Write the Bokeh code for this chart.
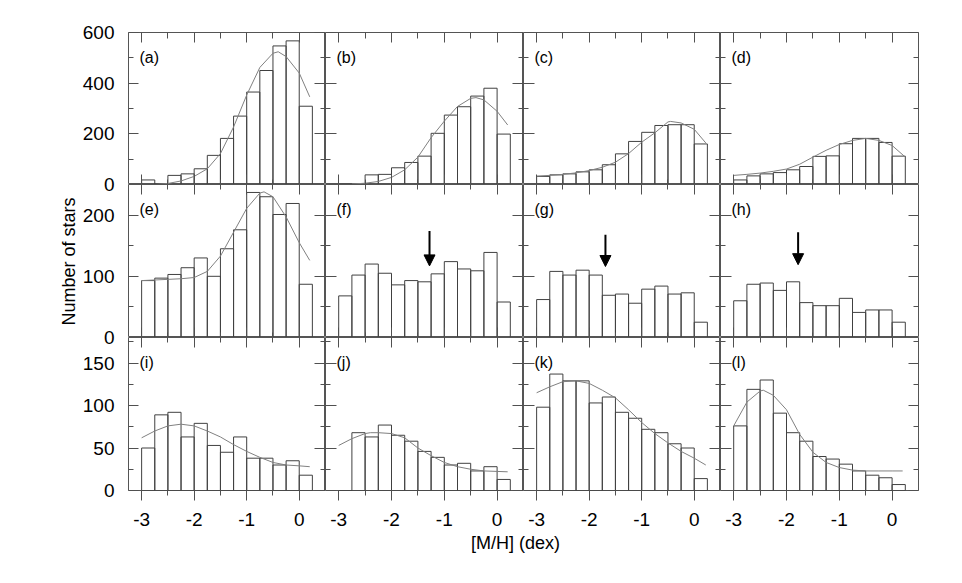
from bokeh.plotting import figure
from bokeh.models import Range1d, LinearAxis, FixedTicker, Label, Arrow, NormalHead, CustomLabelingPolicy
from bokeh.layouts import row, column
from bokeh.embed import file_html
from bokeh.resources import INLINE

# ---------------- data ----------------
BIN_LEFT = [-3.0, -2.75, -2.5, -2.25, -2.0, -1.75, -1.5, -1.25, -1.0, -0.75, -0.5, -0.25, 0.0]
BIN_WIDTH = 0.25

counts_a = [18, 2, 36, 42, 62, 115, 182, 270, 365, 450, 547, 567, 309]
counts_b = [1, 1, 38, 40, 66, 87, 112, 202, 274, 307, 349, 380, 199]
counts_c = [32, 38, 42, 50, 58, 78, 121, 170, 206, 233, 236, 236, 160]
counts_d = [18, 34, 42, 47, 58, 71, 111, 113, 161, 182, 182, 166, 112]
counts_e = [93, 97, 103, 114, 130, 100, 145, 176, 237, 230, 201, 219, 87]
counts_f = [68, 102, 120, 105, 86, 93, 91, 104, 124, 112, 109, 139, 58]
counts_g = [62, 108, 102, 110, 102, 69, 71, 56, 79, 84, 71, 73, 25]
counts_h = [60, 87, 89, 77, 91, 57, 52, 52, 64, 41, 45, 45, 25]
counts_i = [50, 89, 92, 63, 79, 53, 45, 63, 38, 38, 30, 35, 18]
counts_j = [0, 68, 63, 77, 65, 58, 46, 39, 30, 32, 23, 28, 13]
counts_k = [98, 137, 129, 129, 103, 110, 92, 85, 72, 68, 55, 50, 14]
counts_l = [76, 119, 130, 91, 68, 58, 40, 37, 31, 23, 18, 15, 7]

fit_a_x = [-2.75, -2.5, -2.25, -2.0, -1.75, -1.5, -1.25, -1.0, -0.75, -0.5, -0.4, -0.25, 0.0, 0.2]
fit_a_y = [0, 4, 14, 32, 62, 122, 227, 353, 462, 518, 524, 505, 440, 346]
fit_b_x = [-2.75, -2.5, -2.25, -2.0, -1.75, -1.5, -1.25, -1.0, -0.75, -0.5, -0.4, -0.25, 0.0, 0.2]
fit_b_y = [2, 5, 12, 28, 58, 108, 185, 250, 308, 340, 343, 334, 289, 235]
fit_c_x = [-3.0, -2.75, -2.5, -2.25, -2.0, -1.75, -1.5, -1.25, -1.0, -0.75, -0.5, -0.45, -0.25, 0.0, 0.22]
fit_c_y = [33, 36, 40, 46, 55, 68, 88, 122, 167, 204, 247, 249, 243, 218, 164]
fit_d_x = [-3.0, -2.75, -2.5, -2.25, -2.0, -1.75, -1.5, -1.25, -1.0, -0.75, -0.5, -0.25, 0.0, 0.23]
fit_d_y = [36, 40, 45, 52, 61, 80, 108, 135, 158, 174, 182, 174, 154, 112]
fit_e_x = [-3.0, -2.75, -2.5, -2.25, -2.0, -1.75, -1.5, -1.25, -1.0, -0.75, -0.67, -0.5, -0.25, 0.0, 0.2]
fit_e_y = [93, 94, 95, 96, 98, 108, 133, 172, 211, 236, 238, 230, 197, 155, 126]
fit_i_x = [-3.0, -2.75, -2.5, -2.25, -2.0, -1.75, -1.5, -1.25, -1.0, -0.75, -0.5, -0.25, 0.0, 0.2]
fit_i_y = [62, 70, 76, 78, 76, 70, 63, 54, 46, 39, 33, 30, 29, 28]
fit_j_x = [-3.0, -2.75, -2.5, -2.4, -2.25, -2.0, -1.75, -1.5, -1.25, -1.0, -0.75, -0.5, -0.25, 0.2]
fit_j_y = [53, 61, 67, 68, 68, 67, 62, 50, 41, 33, 28, 25, 23, 22]
fit_k_x = [-3.0, -2.75, -2.5, -2.25, -2.0, -1.75, -1.5, -1.25, -1.0, -0.75, -0.5, -0.25, 0.0, 0.22]
fit_k_y = [115, 122, 128, 129, 126, 118, 109, 95, 80, 67, 56, 46, 38, 30]
fit_l_x = [-3.0, -2.75, -2.5, -2.44, -2.25, -2.0, -1.75, -1.5, -1.25, -1.0, -0.75, -0.5, -0.25, 0.0, 0.2]
fit_l_y = [76, 104, 117, 118, 112, 95, 66, 45, 33, 27, 24, 23, 23, 23, 23]

# arrows in panels (f), (g), (h)
arrow_x = [-1.28, -1.69, -1.78]
arrow_y_start = [174, 168, 172]
arrow_y_end = [117, 116, 119]

PANEL_LETTERS = [["a", "b", "c", "d"], ["e", "f", "g", "h"], ["i", "j", "k", "l"]]
X_MAJOR = [-3, -2, -1, 0]
X_MINOR = [-2.5, -1.5, -0.5]
X_LABELS = ["-3", "-2", "-1", "0"]
Y_MAX = [600, 250, 180]
Y_MAJOR = [[0, 200, 400, 600], [0, 100, 200], [0, 50, 100, 150]]
Y_MINOR = [[100, 300, 500], [50, 150], [25, 75, 125, 175]]
Y_TITLE = "Number of stars"
X_TITLE = "[M/H] (dex)"

# ---------------- styling / layout ----------------
FONT = "Liberation Sans"
XMIN, XMAX = -3.25, 0.5
COL_W = [197, 198, 197, 198]
ROW_H = [152, 153, 153]
TOP_PAD, BOTTOM_PAD, LEFT_PAD, RIGHT_PAD = 32, 44, 128, 4
FRAME = "#555555"
BAR = "#404040"
FIT = "#808080"
TICK = "#505050"
TICK_FONT_SIZE = "19px"

counts = {"a": counts_a, "b": counts_b, "c": counts_c, "d": counts_d,
          "e": counts_e, "f": counts_f, "g": counts_g, "h": counts_h,
          "i": counts_i, "j": counts_j, "k": counts_k, "l": counts_l}
fits = {"a": (fit_a_x, fit_a_y), "b": (fit_b_x, fit_b_y), "c": (fit_c_x, fit_c_y),
        "d": (fit_d_x, fit_d_y), "e": (fit_e_x, fit_e_y), "i": (fit_i_x, fit_i_y),
        "j": (fit_j_x, fit_j_y), "k": (fit_k_x, fit_k_y), "l": (fit_l_x, fit_l_y)}
arrows = {"f": 0, "g": 1, "h": 2}

bin_centers = [b + BIN_WIDTH / 2 for b in BIN_LEFT]

NO_LABELS = "for (const i of Array.from(indices)) { indices.unset(i) }\nreturn indices"


def add_axis(p, side, major, minor, tin, tin_minor, tout=0, tout_minor=0, labels=None):
    ax = LinearAxis(ticker=FixedTicker(ticks=major, minor_ticks=minor))
    ax.axis_line_color = None
    ax.major_tick_in = tin
    ax.major_tick_out = tout
    ax.minor_tick_in = tin_minor
    ax.minor_tick_out = tout_minor
    ax.major_tick_line_color = TICK
    ax.minor_tick_line_color = TICK
    if labels is None:
        ax.major_label_policy = CustomLabelingPolicy(code=NO_LABELS)
        ax.major_label_text_font_size = "0px"
        ax.major_label_standoff = 0
    else:
        ax.major_label_overrides = {t: s for t, s in zip(major, labels)}
        ax.major_label_text_font = FONT
        ax.major_label_text_font_size = TICK_FONT_SIZE
        ax.major_label_text_color = "black"
        ax.major_label_standoff = 12
    p.add_layout(ax, side)


def make_panel(r, c):
    letter = PANEL_LETTERS[r][c]
    p = figure(frame_width=COL_W[c], frame_height=ROW_H[r],
               x_range=Range1d(XMIN, XMAX), y_range=Range1d(0, Y_MAX[r]),
               toolbar_location=None, tools="", output_backend="svg",
               x_axis_location=None, y_axis_location=None,
               min_border_left=0, min_border_right=(RIGHT_PAD if c == 3 else 0),
               min_border_top=(TOP_PAD if r == 0 else 0),
               min_border_bottom=(BOTTOM_PAD if r == 2 else 0),
               outline_line_color=FRAME, outline_line_width=1,
               background_fill_color="white", border_fill_color="white")
    p.grid.visible = False

    # ticks
    add_axis(p, "above", X_MAJOR, X_MINOR, 10, 6 if r == 0 else 5)
    if r == 2:
        add_axis(p, "below", X_MAJOR, X_MINOR, 0, 0, tout=10, tout_minor=5, labels=X_LABELS)
    else:
        add_axis(p, "below", X_MAJOR, X_MINOR, 10, 5)
    add_axis(p, "left", Y_MAJOR[r], Y_MINOR[r], 10 if c == 0 else 11, 5)
    add_axis(p, "right", Y_MAJOR[r], Y_MINOR[r], 10 if c == 3 else 11, 5)

    # histogram
    p.vbar(x=bin_centers, top=counts[letter], width=BIN_WIDTH, bottom=0,
           fill_color=None, line_color=BAR, line_width=1)
    # fitted curve
    if letter in fits:
        fx, fy = fits[letter]
        p.line(fx, fy, line_color=FIT, line_width=1)
    # arrow
    if letter in arrows:
        k = arrows[letter]
        p.add_layout(Arrow(end=NormalHead(size=11, fill_color="black", line_color="black", line_width=1),
                           x_start=arrow_x[k], y_start=arrow_y_start[k],
                           x_end=arrow_x[k], y_end=arrow_y_end[k],
                           line_color="black", line_width=2))
    # panel letter
    px_per_x = COL_W[c] / (XMAX - XMIN)
    px_per_y = ROW_H[r] / Y_MAX[r]
    p.add_layout(Label(x=XMIN + 11 / px_per_x, y=Y_MAX[r] - 25 / px_per_y,
                       text="(%s)" % letter, text_font=FONT, text_font_size="16px",
                       text_color="black", text_baseline="middle", text_align="left"))
    return p


rows = []
for r in range(3):
    rows.append(row(*[make_panel(r, c) for c in range(4)], spacing=0))
grid = column(*rows, spacing=0)

# left strip holding the y tick labels and the y title
total_h = sum(ROW_H)
strip = figure(frame_width=1, frame_height=total_h,
               x_range=Range1d(0, 1), y_range=Range1d(0, total_h),
               toolbar_location=None, tools="", output_backend="svg",
               x_axis_location=None, y_axis_location=None,
               min_border_left=LEFT_PAD - 1, min_border_right=0,
               min_border_top=TOP_PAD, min_border_bottom=BOTTOM_PAD,
               outline_line_color=None, background_fill_color="white", border_fill_color="white")
strip.grid.visible = False
positions, overrides = [], {}
for r in range(3):
    base = sum(ROW_H[r + 1:])
    for v in Y_MAJOR[r]:
        pos = base + v * ROW_H[r] / Y_MAX[r]
        positions.append(pos)
        overrides[pos] = str(v)
yax = LinearAxis(ticker=FixedTicker(ticks=positions, minor_ticks=[]))
yax.major_label_overrides = overrides
yax.axis_line_color = None
yax.major_tick_in = 0
yax.major_tick_out = 0
yax.minor_tick_in = 0
yax.minor_tick_out = 0
yax.major_label_standoff = 13
yax.major_label_text_font = FONT
yax.major_label_text_font_size = TICK_FONT_SIZE
yax.major_label_text_color = "black"
yax.axis_label = Y_TITLE
yax.axis_label_text_font = FONT
yax.axis_label_text_font_size = "18px"
yax.axis_label_text_font_style = "normal"
yax.axis_label_text_color = "black"
yax.axis_label_standoff = 1
strip.add_layout(yax, "left")

# bottom strip holding the x title
total_w = LEFT_PAD + sum(COL_W) + RIGHT_PAD
lab_h = 26
xlab = figure(width=total_w, height=lab_h, x_range=Range1d(0, total_w), y_range=Range1d(0, lab_h),
              toolbar_location=None, tools="", output_backend="svg",
              x_axis_location=None, y_axis_location=None, min_border=0,
              outline_line_color=None, background_fill_color="white", border_fill_color="white")
xlab.grid.visible = False
xlab.add_layout(Label(x=515, y=lab_h - 8.5, text=X_TITLE, text_font=FONT, text_font_size="18px",
                      text_color="black", text_align="center", text_baseline="middle"))

layout = column(row(strip, grid, spacing=0), xlab, spacing=0)

open("out.html", "w").write(file_html(layout, INLINE))
